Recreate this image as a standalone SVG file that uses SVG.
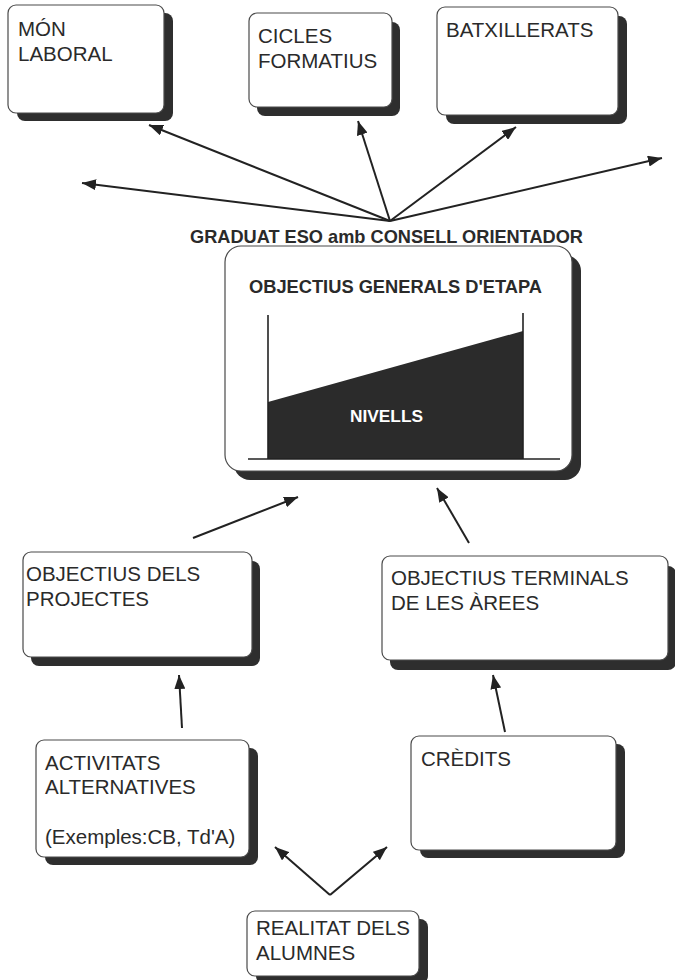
<svg xmlns="http://www.w3.org/2000/svg" width="675" height="980" viewBox="0 0 675 980">
<style>
.bg{fill:#ffffff}
.box{fill:#ffffff;stroke:#4a4a4a;stroke-width:1.2}
.shadow{fill:#2e2e2e}
.t{font-family:"Liberation Sans",Arial,sans-serif;font-size:20.5px;fill:#2a2a2a}
.b{font-family:"Liberation Sans",Arial,sans-serif;font-size:19px;font-weight:bold;fill:#2a2a2a}
.conn line{stroke:#222222;stroke-width:2;marker-end:url(#ah)}
.axis{stroke:#222222;stroke-width:1.6}
</style>
<defs>
<marker id="ah" markerUnits="userSpaceOnUse" markerWidth="15" markerHeight="11" refX="14" refY="5.5" orient="auto">
<path d="M0,0 L14,5.5 L0,11 z" fill="#222222"/>
</marker>
</defs>
<rect class="bg" x="0" y="0" width="675" height="980"/>

<g id="mon-laboral">
<rect class="shadow" x="17" y="13" width="156" height="108" rx="8"/>
<rect class="box" x="8" y="5" width="156" height="108" rx="8"/>
<text class="t" x="18" y="36">MÓN</text>
<text class="t" x="18" y="61">LABORAL</text>
</g>

<g id="cicles-formatius">
<rect class="shadow" x="257" y="22" width="143" height="94" rx="8"/>
<rect class="box" x="249" y="13" width="143" height="94" rx="8"/>
<text class="t" x="258" y="43">CICLES</text>
<text class="t" x="258" y="68">FORMATIUS</text>
</g>

<g id="batxillerats">
<rect class="shadow" x="446" y="16" width="181" height="108" rx="8"/>
<rect class="box" x="437" y="7" width="181" height="108" rx="8"/>
<text class="t" x="446" y="37">BATXILLERATS</text>
</g>

<g id="graduat">
<text class="b" x="190" y="243" textLength="393" lengthAdjust="spacingAndGlyphs">GRADUAT ESO amb CONSELL ORIENTADOR</text>
</g>

<g id="objectius-generals">
<rect class="shadow" x="234" y="255" width="347" height="225" rx="16"/>
<rect class="box" x="225" y="246" width="347" height="225" rx="16"/>
<text class="b" x="249" y="293" textLength="293" lengthAdjust="spacingAndGlyphs">OBJECTIUS GENERALS D'ETAPA</text>
<polygon points="268,402 523,331 523,459 268,459" fill="#2b2b2b"/>
<line class="axis" x1="268" y1="315" x2="268" y2="459"/>
<line class="axis" x1="523" y1="313" x2="523" y2="459"/>
<line class="axis" x1="248" y1="459" x2="560" y2="459"/>
<text x="350" y="422" font-family="Liberation Sans, Arial, sans-serif" font-size="17" font-weight="bold" fill="#ffffff" textLength="73" lengthAdjust="spacingAndGlyphs">NIVELLS</text>
</g>

<g id="objectius-projectes">
<rect class="shadow" x="31" y="561" width="229" height="105" rx="8"/>
<rect class="box" x="23" y="552" width="229" height="105" rx="8"/>
<text class="t" x="26" y="581">OBJECTIUS DELS</text>
<text class="t" x="26" y="606">PROJECTES</text>
</g>

<g id="objectius-terminals">
<rect class="shadow" x="390" y="566" width="286" height="104" rx="8"/>
<rect class="box" x="382" y="556" width="286" height="104" rx="8"/>
<text class="t" x="391" y="585">OBJECTIUS TERMINALS</text>
<text class="t" x="391" y="610">DE LES ÀREES</text>
</g>

<g id="activitats">
<rect class="shadow" x="45" y="748" width="213" height="117" rx="8"/>
<rect class="box" x="36" y="740" width="213" height="117" rx="8"/>
<text class="t" x="45" y="770">ACTIVITATS</text>
<text class="t" x="45" y="794">ALTERNATIVES</text>
<text class="t" x="45" y="844">(Exemples:CB, Td'A)</text>
</g>

<g id="credits">
<rect class="shadow" x="420" y="744" width="205" height="114" rx="8"/>
<rect class="box" x="411" y="736" width="205" height="114" rx="8"/>
<text class="t" x="421" y="766">CRÈDITS</text>
</g>

<g id="realitat">
<rect class="shadow" x="256" y="919" width="172" height="65" rx="8"/>
<rect class="box" x="247" y="911" width="172" height="65" rx="8"/>
<text class="t" x="256" y="935">REALITAT DELS</text>
<text class="t" x="256" y="960">ALUMNES</text>
</g>

<g id="connectors" class="conn">
<line x1="390" y1="221" x2="82" y2="183"/>
<line x1="390" y1="221" x2="149" y2="125"/>
<line x1="390" y1="221" x2="358" y2="121"/>
<line x1="390" y1="221" x2="516" y2="127"/>
<line x1="390" y1="221" x2="662" y2="158"/>
<line x1="193" y1="538" x2="298" y2="497"/>
<line x1="469" y1="543" x2="437" y2="488"/>
<line x1="182" y1="728" x2="179" y2="675"/>
<line x1="505" y1="732" x2="493" y2="675"/>
<line x1="330" y1="895" x2="275" y2="847"/>
<line x1="330" y1="895" x2="387" y2="847"/>
</g>
</svg>
